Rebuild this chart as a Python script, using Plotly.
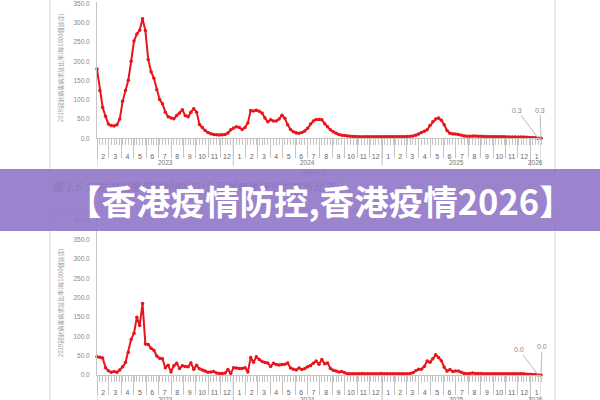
import plotly.graph_objects as go
import pandas as pd

# ---------------- data ----------------
week_start = "2023-01-31"
n_weeks = 157
dates = pd.date_range(week_start, periods=n_weeks, freq="7D")

# top chart: weekly rate (per 1000 consultations)
rate_top = [
    180, 124, 80, 57, 37, 33, 32, 35, 50, 96,
    124, 151, 200, 253, 271, 281, 311, 280, 205, 173,
    156, 126, 101, 90, 68, 56, 53, 51, 59, 66,
    74, 59, 56, 68, 77, 68, 36, 28, 20, 15,
    12, 10, 9, 8.5, 9, 10, 14, 22, 27, 30,
    28, 23, 28, 40, 72, 71, 73, 70, 66, 53,
    43, 48, 45, 45, 50, 60, 52, 35, 23, 17,
    14, 13, 15, 19, 26, 37, 45, 49, 49, 48,
    38, 30, 22, 17, 13, 10, 8, 7, 6, 5,
    4.5, 4.5, 4, 4, 4, 4, 4, 4, 4, 4,
    4, 4, 4, 4, 4, 4, 4, 4, 4, 4.5,
    5, 6, 8, 11, 15, 18, 22, 33, 43, 50,
    53, 47, 35, 20, 13, 11, 11, 10, 8, 6,
    5, 5, 6, 6, 5, 5, 4.5, 4, 4, 4,
    4, 4, 4, 4, 3.5, 3.5, 3.5, 3.5, 3, 3,
    3, 2.5, 2, 2, 1.5, 0.3, 0.3,
]

# bottom chart: weekly rate
rate_bottom = [
    47, 46, 44, 19, 11, 7, 9, 7, 13, 21,
    32, 59, 92, 108, 149, 128, 185, 80, 79, 69,
    64, 49, 43, 42, 19, 25, 8, 24, 30, 17,
    24, 22, 21, 31, 15, 25, 16, 13, 10, 7,
    8, 9, 5, 4, 4, 5, 14, 4, 19, 18,
    17, 17, 19, 8, 45, 33, 47, 40, 35, 32,
    31, 22, 30, 27, 26, 27, 28, 31, 18, 15,
    13, 18, 14, 17, 21, 24, 30, 36, 28, 40,
    29, 31, 17, 12, 10, 8, 9, 6, 3, 3,
    3, 3, 3, 4, 3, 3, 3, 3, 3, 3,
    4, 3, 3, 3, 3, 3, 3, 3, 3, 3,
    4, 6, 11, 15, 15, 22, 36, 33, 42, 52,
    45, 37, 20, 10, 14, 9, 10, 10, 7, 4,
    3, 4, 5, 4, 4, 4, 3, 3, 3, 3,
    3, 3, 3, 3, 3, 3, 3, 3, 3, 3,
    3, 2, 2, 1.5, 1, 0.0, 0.0,
]

y_ticks_top = [0, 50, 100, 150, 200, 250, 300, 350]
y_ticks_bottom = [0, 50, 100, 150, 200, 250, 300, 350, 400]
years = [2023, 2024, 2025, 2026]
end_labels_top = ["0.3", "0.3"]
end_labels_bottom = ["0.0", "0.0"]

y_title = "2019冠狀病毒病求診比率(每1000個診症)"
x_title = "時期(月份)"
caption = "圖 1.6  定點家庭醫學門診的 2019 冠狀病毒病平均求診比率"
banner_text = "【香港疫情防控,香港疫情2026】"

# ---------------- helpers ----------------
W, H = 600, 400


def px(p):
    return p / W


def py(p):
    return 1 - p / H


d0, d1 = dates[0], dates[-1]
xdom = [px(97), px(541)]
axis_col = "#c4c4c4"
line_col = "#e8161b"
tick_font = dict(family="Liberation Sans, Arial", size=7, color="#666")

year_bounds = [d0] + [pd.Timestamp(f"{y}-01-01") for y in years[1:]] + [d1]
year_mids = []
for y in years:
    a = max(d0, pd.Timestamp(f"{y}-01-01"))
    b = min(d1, pd.Timestamp(f"{y + 1}-01-01"))
    year_mids.append(a + (b - a) / 2)


def month_axis(anchor):
    return dict(domain=xdom, anchor=anchor, type="date", range=[d0, d1],
                dtick="M1", tick0="2023-01-01", tickformat="%-m",
                ticklabelmode="period", ticks="outside", ticklen=19,
                tickcolor=axis_col, tickwidth=1, showline=True,
                linecolor=axis_col, linewidth=1, showgrid=False,
                zeroline=False, tickfont=tick_font, ticklabelstandoff=-8,
                ticklabeloverflow="allow",
                minor=dict(dtick=7 * 86400000, tick0=d0, ticks="outside",
                           ticklen=6, tickcolor=axis_col, showgrid=False))


def y_axis(anchor, dom, rng, vals):
    return dict(domain=dom, range=rng, anchor=anchor, tickmode="array",
                tickvals=vals, tickformat=".1f", ticks="", showline=True,
                linecolor=axis_col, linewidth=1, showgrid=False,
                zeroline=False, ticklabelstandoff=5, ticklabeloverflow="allow",
                tickfont=dict(family="Liberation Sans, Arial", size=6.5, color="#888"))


fig = go.Figure()
fig.add_trace(go.Scatter(x=dates, y=rate_top, mode="lines+markers",
                         line=dict(color=line_col, width=2),
                         marker=dict(size=3.5, color=line_col),
                         xaxis="x", yaxis="y", cliponaxis=False,
                         showlegend=False, hoverinfo="skip"))
fig.add_trace(go.Scatter(x=dates, y=rate_bottom, mode="lines+markers",
                         line=dict(color=line_col, width=2),
                         marker=dict(size=3.5, color=line_col),
                         xaxis="x2", yaxis="y2", cliponaxis=False,
                         showlegend=False, hoverinfo="skip"))

annotations = []
shapes = []
C = dict(xanchor="center", yanchor="middle", showarrow=False)

# year separators and year labels below each month axis
year_font = dict(family="Liberation Sans, Arial", size=6.5, color="#777")
for xref, axis_px in (("x", 138), ("x2", 377.7)):
    for b in year_bounds:
        shapes.append(dict(type="line", xref=xref, yref="paper", x0=b, x1=b,
                           y0=py(axis_px), y1=py(axis_px + 28),
                           line=dict(color=axis_col, width=1)))
    for m, y in zip(year_mids, years):
        annotations.append(dict(x=m, y=py(axis_px + 25), xref=xref, yref="paper",
                                text=str(y), font=year_font, **C))

lab_font = dict(family="Liberation Sans, Arial", size=7, color="#888")
for i, (xo, yo) in enumerate([(-21, -28), (-1, -28)]):
    k = n_weeks - 2 + i
    annotations.append(dict(x=dates[k], y=rate_top[k], xref="x", yref="y",
                            text=end_labels_top[i], showarrow=True, arrowhead=0,
                            arrowwidth=0.8, arrowcolor="#aaa", ax=xo, ay=yo,
                            font=lab_font))
for i, (xo, yo) in enumerate([(-19, -25), (1, -28)]):
    k = n_weeks - 2 + i
    annotations.append(dict(x=dates[k], y=rate_bottom[k], xref="x2", yref="y2",
                            text=end_labels_bottom[i], showarrow=True, arrowhead=0,
                            arrowwidth=0.8, arrowcolor="#aaa", ax=xo, ay=yo,
                            font=lab_font))

title_font = dict(family="Noto Sans CJK TC", size=6, color="#999")
for yc in (67, 305):
    annotations.append(dict(x=px(60), y=py(yc), xref="paper", yref="paper",
                            text=y_title, textangle=-90, font=title_font, **C))
annotations.append(dict(x=px(315), y=py(172), xref="paper", yref="paper",
                        text=x_title, font=title_font, **C))
annotations.append(dict(x=px(50), y=py(186), xref="paper", yref="paper",
                        xanchor="left", yanchor="middle",
                        text="<i>" + caption + "</i>", showarrow=False,
                        font=dict(family="Noto Sans CJK TC", size=11, color="#666")))
# banner box (drawn above the caption) and its text
annotations.append(dict(x=0.5, y=py(200), xref="paper", yref="paper",
                        text=" ", width=600, height=62,
                        bgcolor="rgba(146,119,200,0.91)", borderpad=0,
                        borderwidth=0, **C))
annotations.append(dict(x=px(320.5), y=py(201), xref="paper", yref="paper",
                        text="<b>" + banner_text + "</b>",
                        font=dict(family="Noto Sans CJK SC", size=34.5, color="white"),
                        **C))

frame = dict(color="#d2d2d2", width=1)
for (x0, y0, x1, y1) in [(50, -5, 50, 175), (555, -5, 555, 175), (50, 175, 555, 175),
                         (50, 210.7, 555, 210.7), (50, 210.7, 50, 405), (555, 210.7, 555, 405)]:
    shapes.append(dict(type="line", xref="paper", yref="paper", x0=px(x0), x1=px(x1),
                       y0=py(y0), y1=py(y1), line=frame, layer="below"))

fig.update_layout(
    width=W, height=H, margin=dict(l=0, r=0, t=0, b=0),
    paper_bgcolor="white", plot_bgcolor="rgba(0,0,0,0)",
    showlegend=False,
    xaxis=month_axis("y"),
    xaxis2=month_axis("y2"),
    yaxis=y_axis("x", [py(138), 1.0], [0, 138 / 0.3894], y_ticks_top),
    yaxis2=y_axis("x2", [py(377.7), py(211)], [0, (377.7 - 211) / 0.3918], y_ticks_bottom),
    annotations=annotations,
    shapes=shapes,
)

fig.write_html("out.html", config={"displayModeBar": False},
               post_script="document.body.style.margin='0px';document.body.style.overflow='hidden';")
